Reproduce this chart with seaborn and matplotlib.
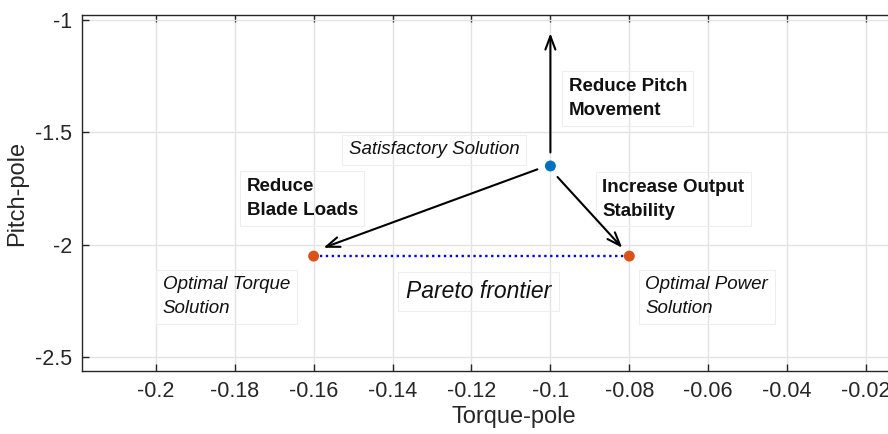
import matplotlib
matplotlib.use("Agg")
import matplotlib.pyplot as plt
import seaborn as sns
import pandas as pd

# Solution points in the (torque-pole, pitch-pole) plane
solution_names = ["Satisfactory", "Optimal Torque", "Optimal Power"]
torque_pole = [-0.10, -0.16, -0.08]
pitch_pole = [-1.65, -2.05, -2.05]
point_colors = ["#0072BD", "#D95319", "#D95319"]

# Pareto frontier between the two optimal solutions
frontier_torque = [-0.16, -0.08]
frontier_pitch = [-2.05, -2.05]

# Trade-off arrows: (start, end) in data units
arrow_starts = [(-0.100, -1.590), (-0.1033, -1.665), (-0.0982, -1.699)]
arrow_ends = [(-0.100, -1.061), (-0.1575, -2.013), (-0.0818, -2.013)]

x_ticks = [-0.2, -0.18, -0.16, -0.14, -0.12, -0.1, -0.08, -0.06, -0.04, -0.02]
x_tick_labels = ["-0.2", "-0.18", "-0.16", "-0.14", "-0.12", "-0.1", "-0.08", "-0.06", "-0.04", "-0.02"]
y_ticks = [-2.5, -2.0, -1.5, -1.0]
y_tick_labels = ["-2.5", "-2", "-1.5", "-1"]

sns.set_theme(style="whitegrid")
plt.rcParams["font.family"] = ["Liberation Sans", "DejaVu Sans"]

fig = plt.figure(figsize=(8.88, 4.34), dpi=100)
ax = fig.add_axes([82 / 888, 63 / 434, (945 - 82) / 888, 356 / 434])
ax.set_facecolor("white")

frontier_df = pd.DataFrame({"torque": frontier_torque, "pitch": frontier_pitch})
sns.lineplot(data=frontier_df, x="torque", y="pitch", ax=ax, color="#0000FF",
             linewidth=1.7, linestyle=(0, (1, 1.5)), zorder=3)

points_df = pd.DataFrame({"torque": torque_pole, "pitch": pitch_pole, "name": solution_names})
sns.scatterplot(data=points_df, x="torque", y="pitch", hue="name",
                palette=dict(zip(solution_names, point_colors)), s=62,
                edgecolor="none", ax=ax, legend=False, zorder=4)

for start, end in zip(arrow_starts, arrow_ends):
    ax.annotate("", xy=end, xytext=start,
                arrowprops=dict(arrowstyle="->,head_length=0.8,head_width=0.3",
                                color="black", lw=1.5, shrinkA=0, shrinkB=0),
                zorder=5)

box = dict(boxstyle="square,pad=0.35", facecolor="none", edgecolor="#eeeeee", lw=0.8)
txt_kw = dict(ha="left", va="center", color="#111111", linespacing=1.55, bbox=box, zorder=2)

ax.text(-0.1511, -1.579, "Satisfactory Solution", fontsize=13.5, style="italic", **txt_kw)
ax.text(-0.0954, -1.351, "Reduce Pitch\nMovement", fontsize=13.5, fontweight="bold", **txt_kw)
ax.text(-0.1770, -1.794, "Reduce\nBlade Loads", fontsize=13.5, fontweight="bold", **txt_kw)
ax.text(-0.0868, -1.797, "Increase Output\nStability", fontsize=13.5, fontweight="bold", **txt_kw)
ax.text(-0.1982, -2.231, "Optimal Torque\nSolution", fontsize=13.5, style="italic", **txt_kw)
ax.text(-0.1367, -2.209, "Pareto frontier", fontsize=16.5, style="italic", **txt_kw)
ax.text(-0.0759, -2.231, "Optimal Power\nSolution", fontsize=13.5, style="italic", **txt_kw)

ax.set_xlim(-0.2187, 0.0)
ax.set_ylim(-2.56, -0.98)
ax.set_xticks(x_ticks)
ax.set_xticklabels(x_tick_labels)
ax.set_yticks(y_ticks)
ax.set_yticklabels(y_tick_labels)

ax.grid(True, color="#e3e3e3", linewidth=1.0)
ax.tick_params(axis="both", which="both", direction="in", length=5, width=1,
               color="#262626", labelcolor="#262626", labelsize=15.5,
               top=True, right=True, bottom=True, left=True, pad=7)
for side in ["left", "bottom", "top", "right"]:
    ax.spines[side].set_visible(True)
    ax.spines[side].set_color("#262626")
    ax.spines[side].set_linewidth(1.0)

ax.set_xlabel("Torque-pole", fontsize=17, color="#262626", labelpad=3)
ax.set_ylabel("Pitch-pole", fontsize=17, color="#262626", labelpad=5)

fig.savefig("out.png", dpi=100)
